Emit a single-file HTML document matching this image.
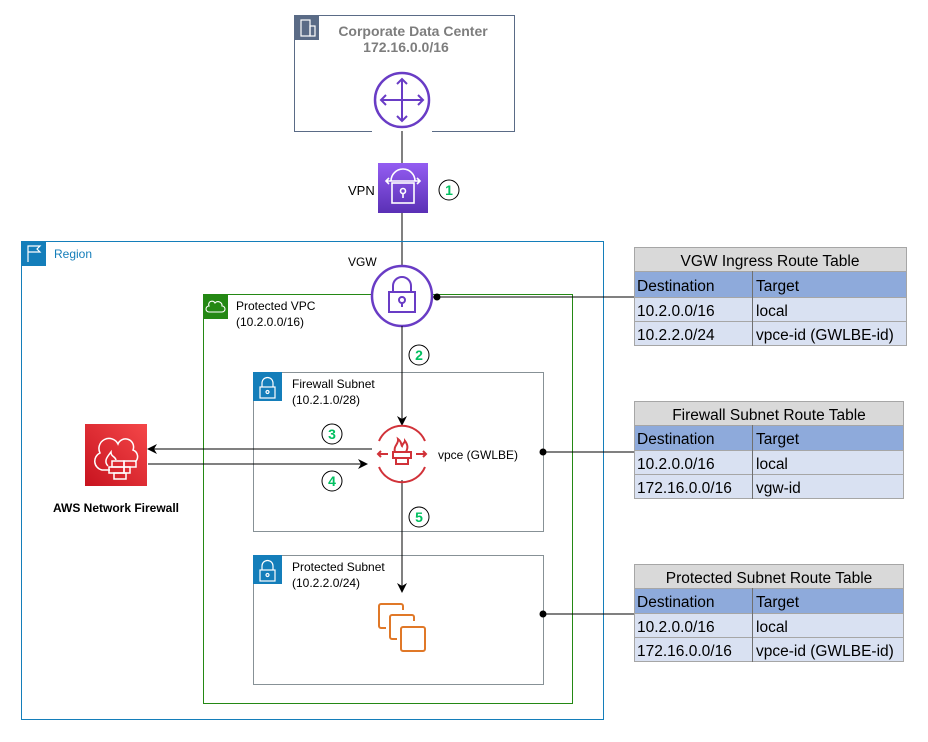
<!DOCTYPE html>
<html><head><style>
body{margin:0;background:#fff;}
svg{display:block;font-family:"Liberation Sans",Arial,sans-serif;}
</style></head><body>
<svg width="928" height="742" viewBox="0 0 928 742">
<defs>
<marker id="ah" markerWidth="10" markerHeight="10" refX="9" refY="5" orient="auto" markerUnits="userSpaceOnUse"><path d="M0,0 L10,5 L0,10 L3,5 z" fill="#000"/></marker>
<linearGradient id="pg" x1="0" y1="0" x2="0" y2="1"><stop offset="0" stop-color="#945df2"/><stop offset="1" stop-color="#5a30b5"/></linearGradient>
<linearGradient id="rg" x1="1" y1="0" x2="0" y2="1"><stop offset="0" stop-color="#f54749"/><stop offset="1" stop-color="#c7131f"/></linearGradient>
</defs>
<rect x="294.5" y="15.5" width="220" height="116" fill="#fff" stroke="#5a6b86"/>
<rect x="294" y="15" width="25" height="25" fill="#5a6b86"/>
<rect x="301" y="20" width="9" height="16" fill="none" stroke="#fff" stroke-width="1.2"/>
<rect x="310" y="26" width="5" height="10" fill="none" stroke="#fff" stroke-width="1.2"/>
<text x="413" y="36" text-anchor="middle" font-size="14" font-weight="bold" fill="#7d7d7d">Corporate Data Center</text>
<text x="406" y="52" text-anchor="middle" font-size="14" font-weight="bold" fill="#7d7d7d">172.16.0.0/16</text>
<rect x="372" y="125" width="60" height="12" fill="#fff"/>
<circle cx="402" cy="100" r="27" fill="#fff" stroke="#693cc5" stroke-width="2.5"/>
<g stroke="#693cc5" stroke-width="2" fill="none">
<line x1="402" y1="79" x2="402" y2="121"/><line x1="381" y1="100" x2="423" y2="100"/>
<path d="M397,84 L402,79 L407,84 M397,116 L402,121 L407,116 M386,95 L381,100 L386,105 M418,95 L423,100 L418,105"/>
</g>
<line x1="402" y1="131" x2="402" y2="163" stroke="#000"/>
<line x1="402" y1="213" x2="402" y2="266" stroke="#000"/>
<rect x="378" y="163" width="50" height="50" fill="url(#pg)"/>
<g stroke="#fff" stroke-width="1.6" fill="none">
<path d="M391,181 a12,12 0 0 1 24,0"/>
<rect x="392" y="183" width="22" height="20"/>
<circle cx="403" cy="191" r="2.5"/><line x1="403" y1="193.5" x2="403" y2="198"/>
<path d="M386,181 L420,181 M389,178 L386,181 L389,184 M417,178 L420,181 L417,184"/>
</g>
<text x="348" y="195" font-size="13" fill="#000">VPN</text>
<rect x="21.5" y="241.5" width="582" height="478" fill="none" stroke="#147eba"/>
<rect x="21" y="241" width="25" height="25" fill="#147eba"/>
<path d="M28,262 L28,246 L40,246 L37,249 L40,252 L28,252" fill="none" stroke="#fff" stroke-width="1.2"/>
<text x="54" y="258" font-size="12" fill="#147eba">Region</text>
<text x="348" y="266" font-size="12" fill="#000">VGW</text>
<rect x="203.5" y="294.5" width="369" height="409" fill="none" stroke="#248814"/>
<rect x="203" y="294" width="25" height="25" fill="#248814"/>
<path d="M209,312 h13 a3,3 0 0 0 0,-6 a4,4 0 0 0 -7,-3 a3,3 0 0 0 -6,3 a3,3 0 0 0 0,6z" fill="none" stroke="#fff" stroke-width="1.1"/>
<text x="236" y="310" font-size="12" fill="#000">Protected VPC</text>
<text x="236" y="326" font-size="12" fill="#000">(10.2.0.0/16)</text>
<circle cx="402" cy="296" r="30" fill="#fff" stroke="#693cc5" stroke-width="2.5"/>
<g stroke="#693cc5" stroke-width="2" fill="none">
<path d="M393,292 v-6 a9,9 0 0 1 18,0 v6"/>
<rect x="389" y="292" width="26" height="20"/>
<circle cx="402" cy="300" r="3"/><line x1="402" y1="303" x2="402" y2="307"/>
</g>
<line x1="433" y1="297" x2="634" y2="297" stroke="#000"/>
<circle cx="437" cy="297" r="3.5" fill="#000"/>
<rect x="253.5" y="372.5" width="290" height="159" fill="none" stroke="#879196"/>
<rect x="253" y="372" width="29" height="29" fill="#147eba"/>
<g stroke="#fff" stroke-width="1.2" fill="none"><path d="M262,387 v-4 a5.5,5.5 0 0 1 11,0 v4"/><rect x="260" y="387" width="15" height="11"/><circle cx="267.5" cy="392" r="1.5"/></g>
<text x="292" y="388" font-size="12" fill="#000">Firewall Subnet</text>
<text x="292" y="404" font-size="12" fill="#000">(10.2.1.0/28)</text>
<rect x="253.5" y="555.5" width="290" height="129" fill="none" stroke="#879196"/>
<rect x="253" y="555" width="29" height="29" fill="#147eba"/>
<g stroke="#fff" stroke-width="1.2" fill="none"><path d="M262,570 v-4 a5.5,5.5 0 0 1 11,0 v4"/><rect x="260" y="570" width="15" height="11"/><circle cx="267.5" cy="575" r="1.5"/></g>
<text x="292" y="571" font-size="12" fill="#000">Protected Subnet</text>
<text x="292" y="587" font-size="12" fill="#000">(10.2.2.0/24)</text>
<line x1="402" y1="326" x2="402" y2="425" stroke="#000" marker-end="url(#ah)"/>
<line x1="402" y1="480" x2="402" y2="592" stroke="#000" marker-end="url(#ah)"/>
<line x1="372" y1="449" x2="148" y2="449" stroke="#000" marker-end="url(#ah)"/>
<line x1="148" y1="464" x2="367" y2="464" stroke="#000" marker-end="url(#ah)"/>
<g stroke="#d13239" stroke-width="2" fill="none">
<path d="M379,441 a25,25 0 0 1 46,0"/><path d="M425,467 a25,25 0 0 1 -46,0"/>
<path d="M378,454 h10 M381,451 l-3,3 l3,3 M416,454 h10 M423,451 l3,3 l-3,3"/>
<rect x="393" y="452" width="18" height="6"/><rect x="396" y="458" width="12" height="6"/>
<path d="M395,452 c-2,-6 4,-8 3,-13 c4,3 3,6 4,7 c1,-3 3,-4 3,-5 c3,4 3,7 1,11"/>
</g>
<text x="438" y="459" font-size="12" fill="#000">vpce (GWLBE)</text>
<line x1="543" y1="452" x2="634" y2="452" stroke="#000"/>
<circle cx="543" cy="452" r="3.5" fill="#000"/>
<line x1="543" y1="614" x2="634" y2="614" stroke="#000"/>
<circle cx="543" cy="614" r="3.5" fill="#000"/>
<g stroke="#e07828" stroke-width="2" fill="none">
<path d="M386,628 h-5 a2,2 0 0 1 -2,-2 v-20 a2,2 0 0 1 2,-2 h20 a2,2 0 0 1 2,2 v4"/>
<path d="M397,639 h-5 a2,2 0 0 1 -2,-2 v-20 a2,2 0 0 1 2,-2 h20 a2,2 0 0 1 2,2 v4"/>
<rect x="401" y="627" width="24" height="24" rx="2"/>
</g>
<rect x="85" y="424" width="62" height="62" fill="url(#rg)"/>
<g stroke="#fff" stroke-width="1.5" fill="none">
<path d="M110,470 h-8 a9,9 0 0 1 -2,-17 a10,10 0 0 1 18,-9 a8,8 0 0 1 15,6 a7,7 0 0 1 2,12"/>
<path d="M108,466 c-5,-5 0,-10 3,-14 c0,5 4,4 5,8"/>
<rect x="112" y="461" width="12" height="6"/><rect x="124" y="461" width="12" height="6"/><rect x="109" y="467" width="15" height="6"/><rect x="124" y="467" width="6" height="6"/><rect x="114" y="473" width="12" height="6"/>
</g>
<text x="116" y="512" text-anchor="middle" font-size="12" font-weight="bold" fill="#000">AWS Network Firewall</text>
<g font-size="14" font-weight="bold" fill="#00c060" text-anchor="middle">
<circle cx="449" cy="190" r="10" fill="#fff" stroke="#000"/><text x="449" y="195">1</text>
<circle cx="419" cy="355" r="10" fill="#fff" stroke="#000"/><text x="419" y="360">2</text>
<circle cx="332" cy="434" r="10" fill="#fff" stroke="#000"/><text x="332" y="439">3</text>
<circle cx="332" cy="481" r="10" fill="#fff" stroke="#000"/><text x="332" y="486">4</text>
<circle cx="419" cy="517" r="10" fill="#fff" stroke="#000"/><text x="419" y="522">5</text>
</g>
<g font-size="15.5" fill="#000">
<rect x="634.5" y="247.5" width="272" height="24" fill="#d9d9d9" stroke="#a6a6a6"/>
<text x="770" y="266" text-anchor="middle">VGW Ingress Route Table</text>
<rect x="634.5" y="271.5" width="272" height="26" fill="#8eaadb" stroke="#a6a6a6"/>
<rect x="634.5" y="297.5" width="272" height="24" fill="#d9e1f2" stroke="#a6a6a6"/>
<rect x="634.5" y="321.5" width="272" height="24" fill="#d9e1f2" stroke="#a6a6a6"/>
<line x1="752.5" y1="271" x2="752.5" y2="346" stroke="#707070"/>
<text x="637" y="291">Destination</text><text x="756" y="291">Target</text>
<text x="637" y="316">10.2.0.0/16</text><text x="756" y="316">local</text>
<text x="637" y="340">10.2.2.0/24</text><text x="756" y="340">vpce-id (GWLBE-id)</text>
<rect x="634.5" y="401.5" width="269" height="24" fill="#d9d9d9" stroke="#a6a6a6"/>
<text x="769" y="420" text-anchor="middle">Firewall Subnet Route Table</text>
<rect x="634.5" y="425.5" width="269" height="25" fill="#8eaadb" stroke="#a6a6a6"/>
<rect x="634.5" y="450.5" width="269" height="24" fill="#d9e1f2" stroke="#a6a6a6"/>
<rect x="634.5" y="474.5" width="269" height="24" fill="#d9e1f2" stroke="#a6a6a6"/>
<line x1="752.5" y1="425" x2="752.5" y2="499" stroke="#707070"/>
<text x="637" y="444">Destination</text><text x="756" y="444">Target</text>
<text x="637" y="469">10.2.0.0/16</text><text x="756" y="469">local</text>
<text x="637" y="493">172.16.0.0/16</text><text x="756" y="493">vgw-id</text>
<rect x="634.5" y="564.5" width="269" height="24" fill="#d9d9d9" stroke="#a6a6a6"/>
<text x="769" y="583" text-anchor="middle">Protected Subnet Route Table</text>
<rect x="634.5" y="588.5" width="269" height="25" fill="#8eaadb" stroke="#a6a6a6"/>
<rect x="634.5" y="613.5" width="269" height="24" fill="#d9e1f2" stroke="#a6a6a6"/>
<rect x="634.5" y="637.5" width="269" height="24" fill="#d9e1f2" stroke="#a6a6a6"/>
<line x1="752.5" y1="588" x2="752.5" y2="662" stroke="#707070"/>
<text x="637" y="607">Destination</text><text x="756" y="607">Target</text>
<text x="637" y="632">10.2.0.0/16</text><text x="756" y="632">local</text>
<text x="637" y="656">172.16.0.0/16</text><text x="756" y="656">vpce-id (GWLBE-id)</text>
</g>
</svg>
</body></html>
